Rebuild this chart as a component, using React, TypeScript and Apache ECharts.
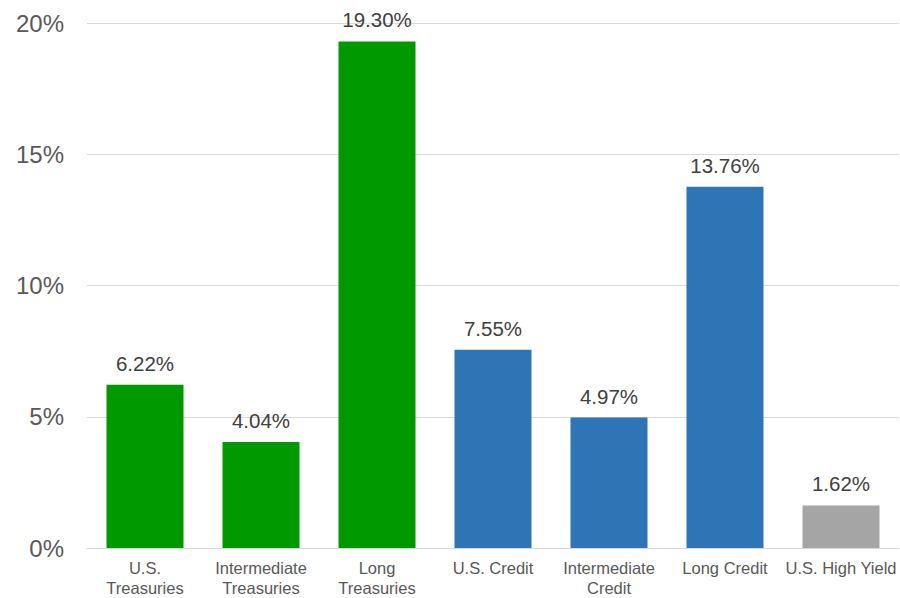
import React, { useEffect, useRef } from "react";
import * as echarts from "echarts";

const categories = [
  "U.S.\nTreasuries",
  "Intermediate\nTreasuries",
  "Long\nTreasuries",
  "U.S. Credit",
  "Intermediate\nCredit",
  "Long Credit",
  "U.S. High Yield",
];
const returns = [6.22, 4.04, 19.3, 7.55, 4.97, 13.76, 1.62];
const sectors = ["treasury", "treasury", "treasury", "credit", "credit", "credit", "highYield"];
const yTicks = [0, 5, 10, 15, 20];

const sectorColors: Record<string, string> = {
  treasury: "#009900",
  credit: "#2E75B6",
  highYield: "#A5A5A5",
};

const FONT = "'Liberation Sans', Arial, sans-serif";

export default function App() {
  const ref = useRef<HTMLDivElement>(null);
  useEffect(() => {
    if (!ref.current) return;
    const chart = echarts.init(ref.current, null, { renderer: "svg" });
    chart.setOption({
      animation: false,
      grid: { left: 87, right: 1, top: 23, bottom: 48, containLabel: false },
      xAxis: {
        type: "category",
        data: categories,
        axisLine: { lineStyle: { color: "#D9D9D9", width: 1 } },
        axisTick: { show: false },
        axisLabel: {
          color: "#595959",
          fontFamily: FONT,
          fontSize: 16.5,
          lineHeight: 20,
          margin: 10,
          interval: 0,
        },
      },
      yAxis: {
        type: "value",
        min: yTicks[0],
        max: yTicks[yTicks.length - 1],
        interval: 5,
        axisLine: { show: false },
        axisTick: { show: false },
        splitLine: { lineStyle: { color: "#D9D9D9", width: 1 } },
        axisLabel: {
          color: "#595959",
          fontFamily: FONT,
          fontSize: 24,
          margin: 23,
          formatter: (v: number) => `${v}%`,
        },
      },
      series: [
        {
          type: "bar",
          barWidth: 77,
          data: returns.map((v, i) => ({
            value: v,
            itemStyle: { color: sectorColors[sectors[i]] },
          })),
          label: {
            show: true,
            position: "top",
            distance: 11,
            color: "#404040",
            fontFamily: FONT,
            fontSize: 20.5,
            formatter: (p: any) => `${Number(p.value).toFixed(2)}%`,
          },
        },
      ],
    });
    return () => chart.dispose();
  }, []);
  return (
    <div
      ref={ref}
      style={{ position: "absolute", left: 0, top: 0, width: 900, height: 598 }}
    />
  );
}
